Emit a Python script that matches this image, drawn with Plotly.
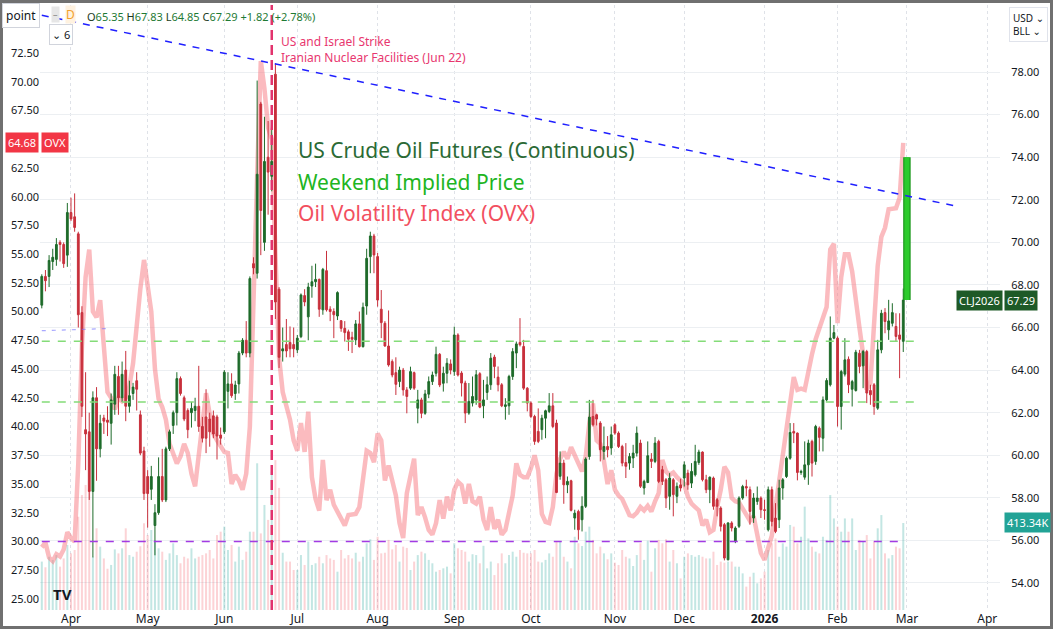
import pandas as pd
import plotly.graph_objects as go

# Trading days missing from the chart (exchange holidays)
holidays = ["2025-04-18", "2025-05-26", "2025-06-19", "2025-07-04", "2025-09-01",
            "2025-11-27", "2025-12-25", "2026-01-01", "2026-01-19", "2026-02-16"]

# Daily candles, Mar 20 2025 -> Feb 27 2026 (one line per month)
opens = [
    67.05, 68.4, 68.4, 69.1, 69.2, 70.0, 69.9, 69.4,
    71.4, 71.2, 70.4, 66.7, 61.2, 61.1, 58.3, 62.7, 60.3, 61.75, 61.65, 61.5, 62.4, 63.7, 62.7, 64.0, 62.3, 62.9, 63.5, 61.9, 60.2,
    59.0, 58.4, 56.7, 57.3, 59.0, 57.9, 60.3, 61.4, 62.0, 63.6, 62.7, 62.1, 62.0, 62.1, 62.3, 61.35, 61.8, 61.7, 61.85, 61.8, 60.95,
    61.1, 63.0, 63.35, 62.9, 63.35, 64.8, 65.4, 64.8, 69.0, 68.55, 76.5, 70.0, 74.0, 73.1, 77.9, 67.8, 64.9, 65.2, 65.3, 65.2,
    64.95, 65.57, 67.5, 66.5, 67.95, 68.15, 68.26, 66.83, 68.67, 66.86, 66.75, 66.54, 66.32, 65.96, 65.8, 65.54, 65.42, 66.17, 65.1, 67.01, 69.33, 70.3,
    69.33, 66.86, 66.2, 65.13, 64.4, 63.88, 63.46, 64.0, 63.07, 63.15, 63.88, 62.21, 62.6, 61.97, 62.87, 63.46, 63.85, 64.74, 63.38, 63.85, 64.29,
    63.93, 65.65, 63.86, 63.39, 61.98, 62.45, 62.6, 63.83, 62.32, 62.95, 63.31, 64.61, 63.67, 63.31, 62.29, 62.32, 63.7, 64.8, 65.3, 65.11, 63.15,
    62.45, 61.82, 61.12, 61.2, 61.74, 62.06, 62.32, 61.51, 59.01, 59.63, 58.61, 58.8, 57.05, 57.36, 56.97, 57.6, 59.94, 61.82, 61.9, 61.51, 60.18, 60.41, 60.34,
    61.43, 61.04, 60.41, 59.66, 59.63, 59.87, 60.1, 60.57, 58.46, 58.72, 59.82, 59.71, 60.65, 59.32, 58.85, 58.07, 58.85, 58.07, 58.61,
    58.93, 59.16, 58.69, 59.08, 59.66, 60.15, 58.85, 58.38, 58.93, 57.91, 57.52, 56.74, 55.09, 56.82, 55.95, 56.66, 57.99, 58.53, 58.38, 57.05, 57.83, 57.99,
    57.44, 56.5, 58.38, 57.05, 56.97, 58.46, 59.0, 59.86, 61.12, 61.04, 59.19, 58.97, 59.55, 60.65, 59.71, 61.27, 60.8, 62.6, 63.31, 65.5,
    65.5, 62.29, 63.81, 64.51, 63.1, 63.04, 64.79, 64.2, 64.87, 63.04, 63.31, 62.21, 64.95, 66.7, 65.89, 66.2, 66.05, 65.65, 65.35,
]
highs = [
    68.5, 68.7, 69.4, 69.7, 70.2, 70.1, 70.0, 71.85,
    72.1, 72.3, 70.5, 67.0, 63.9, 62.0, 63.0, 63.2, 61.9, 61.9, 62.3, 62.9, 64.2, 64.2, 64.4, 64.9, 63.5, 63.4, 63.9, 62.1, 60.4,
    59.3, 59.5, 57.7, 59.9, 60.3, 60.4, 61.2, 62.1, 63.9, 63.7, 62.8, 62.2, 62.5, 62.7, 64.2, 61.8, 63.1, 62.0, 62.1, 61.9, 61.3,
    64.0, 63.9, 63.85, 63.5, 64.9, 65.5, 66.3, 68.4, 69.3, 77.6, 76.6, 75.9, 75.7, 75.75, 78.4, 67.9, 66.0, 66.4, 66.05, 66.0,
    65.65, 67.6, 67.8, 68.1, 68.9, 69.0, 68.3, 68.8, 69.6, 67.0, 66.9, 67.7, 66.35, 66.3, 65.9, 65.8, 66.35, 66.75, 67.17, 69.7, 70.5, 70.4,
    69.5, 67.76, 66.3, 66.8, 64.5, 64.6, 64.16, 64.1, 63.2, 64.16, 63.93, 63.07, 62.7, 63.07, 63.7, 63.93, 65.1, 64.8, 64.16, 64.56, 64.5,
    66.04, 65.73, 63.95, 63.5, 63.39, 63.7, 64.0, 63.9, 63.54, 63.7, 64.8, 64.72, 64.17, 63.39, 62.68, 63.78, 65.03, 65.34, 66.44, 65.42, 63.2,
    62.53, 61.9, 62.2, 61.9, 62.14, 62.92, 62.92, 61.67, 60.18, 59.79, 59.0, 58.85, 57.44, 57.44, 58.07, 59.9, 62.6, 62.6, 61.95, 61.6, 61.35, 60.9, 61.35,
    61.5, 61.12, 60.49, 60.57, 60.1, 60.49, 61.35, 60.73, 58.85, 60.65, 60.1, 60.85, 60.73, 59.5, 58.93, 59.16, 58.93, 58.72, 58.9,
    59.71, 59.32, 59.63, 60.49, 60.26, 60.18, 59.08, 59.0, 59.0, 57.99, 57.6, 56.82, 56.85, 56.9, 56.66, 58.07, 58.61, 58.85, 58.53, 58.22, 58.53, 58.07,
    57.91, 58.53, 58.53, 57.75, 58.85, 58.93, 59.94, 61.51, 61.51, 61.07, 59.32, 60.65, 60.73, 60.73, 61.43, 61.35, 62.76, 63.62, 66.52, 66.12,
    65.58, 64.01, 65.5, 64.64, 63.54, 64.95, 64.95, 64.95, 64.95, 63.31, 63.39, 65.42, 66.83, 66.91, 67.3, 67.14, 66.67, 66.67, 67.83,
]
lows = [
    66.9, 67.7, 67.9, 68.7, 68.9, 69.1, 68.8, 68.85,
    71.0, 70.5, 66.0, 61.8, 59.3, 57.9, 55.2, 58.8, 59.9, 61.0, 60.9, 60.5, 61.9, 61.9, 62.5, 61.6, 62.0, 62.6, 62.1, 60.0, 57.9,
    56.6, 57.9, 55.3, 57.2, 57.8, 57.8, 60.2, 61.0, 61.4, 62.8, 61.6, 60.8, 61.3, 61.6, 61.1, 60.6, 60.1, 60.4, 60.8, 59.8, 60.5,
    61.0, 62.2, 62.7, 62.6, 62.9, 64.7, 64.6, 64.6, 68.5, 68.3, 69.4, 69.6, 71.3, 72.4, 66.4, 64.1, 64.4, 64.6, 64.6, 64.6,
    64.8, 65.5, 67.0, 65.4, 67.4, 67.9, 66.5, 66.6, 66.75, 66.3, 65.5, 66.35, 65.8, 65.34, 64.9, 64.8, 65.18, 65.06, 65.06, 66.6, 68.55, 68.55,
    66.98, 65.5, 65.1, 64.16, 63.66, 62.83, 63.2, 62.8, 61.97, 63.07, 63.07, 61.5, 61.74, 61.9, 62.68, 63.3, 63.7, 63.2, 62.99, 63.38, 63.8,
    63.73, 63.7, 62.76, 61.51, 61.9, 62.29, 62.37, 62.21, 61.74, 62.6, 63.07, 63.62, 63.0, 62.26, 61.67, 61.9, 63.54, 64.09, 65.11, 63.07, 62.06,
    61.74, 60.49, 60.57, 60.73, 60.8, 61.98, 61.27, 58.22, 58.85, 57.72, 58.22, 57.36, 56.5, 56.03, 56.42, 57.52, 59.79, 61.35, 61.4, 59.71, 59.79, 59.9, 60.02,
    60.96, 60.34, 59.48, 58.93, 59.32, 59.4, 59.94, 58.46, 58.15, 58.69, 59.4, 59.63, 58.69, 58.6, 57.52, 57.44, 57.13, 57.75, 58.3,
    58.53, 58.38, 58.46, 59.0, 59.55, 58.77, 58.22, 57.75, 57.44, 57.13, 56.42, 55.06, 55.06, 56.42, 55.87, 56.58, 57.91, 58.07, 56.74, 56.82, 57.67, 57.05,
    56.97, 56.42, 56.66, 56.34, 56.58, 57.91, 58.93, 59.79, 60.57, 58.82, 59.08, 58.85, 58.61, 59.0, 59.55, 60.18, 60.18, 62.53, 63.23, 65.45,
    61.35, 61.2, 63.7, 62.92, 62.29, 62.99, 63.85, 63.15, 62.45, 62.37, 61.9, 62.13, 64.79, 65.73, 65.42, 66.05, 65.34, 63.62, 64.85,
]
closes = [
    68.4, 68.2, 69.15, 69.3, 69.9, 69.9, 69.0, 71.4,
    71.1, 70.7, 66.6, 62.3, 61.0, 58.3, 62.7, 60.3, 61.5, 61.6, 61.55, 62.6, 63.8, 62.7, 63.8, 62.3, 62.8, 63.2, 63.1, 60.1, 58.2,
    58.2, 59.0, 57.3, 59.0, 57.9, 60.3, 61.1, 62.0, 63.6, 62.9, 61.7, 61.2, 62.2, 62.3, 61.35, 60.8, 60.8, 61.1, 61.0, 60.9, 60.8,
    63.9, 63.35, 62.8, 63.3, 64.8, 65.4, 64.8, 68.3, 68.8, 73.2, 71.5, 73.8, 73.3, 73.8, 67.2, 64.6, 65.0, 64.9, 65.0, 65.0,
    65.5, 67.53, 67.2, 67.9, 68.15, 68.26, 66.86, 68.73, 66.83, 66.75, 66.6, 67.64, 65.96, 65.76, 65.45, 65.45, 66.17, 65.1, 66.95, 69.25, 70.3, 69.41,
    67.29, 66.23, 65.13, 64.24, 63.77, 63.33, 64.0, 63.07, 62.76, 63.93, 63.15, 62.6, 61.97, 62.88, 63.46, 63.77, 64.74, 63.3, 63.85, 64.32, 64.0,
    65.65, 63.77, 63.39, 61.98, 62.53, 62.76, 63.78, 62.26, 62.6, 63.31, 64.56, 64.17, 63.31, 62.32, 62.37, 63.7, 64.87, 65.23, 65.19, 63.15, 62.45,
    61.82, 60.65, 60.65, 61.74, 62.09, 62.32, 61.35, 58.25, 59.63, 58.61, 58.77, 57.41, 57.28, 56.5, 57.6, 59.82, 61.79, 61.43, 61.7, 60.26, 60.41, 60.26, 60.96,
    61.04, 60.41, 59.63, 59.48, 59.94, 60.1, 61.04, 58.54, 58.77, 59.98, 59.71, 60.57, 58.77, 58.77, 57.99, 58.93, 58.15, 58.54, 58.46,
    59.55, 58.61, 59.24, 59.71, 60.15, 58.85, 58.38, 58.97, 57.6, 57.6, 56.66, 55.17, 56.82, 56.58, 56.58, 57.99, 58.53, 58.46, 57.36, 57.99, 57.99, 57.44,
    57.41, 58.38, 56.89, 56.42, 58.46, 58.85, 59.86, 61.07, 61.04, 59.19, 59.24, 59.55, 60.57, 59.63, 61.35, 60.84, 62.6, 63.51, 65.5, 65.76,
    62.29, 63.93, 64.48, 63.31, 63.46, 64.84, 64.17, 64.87, 62.92, 62.84, 62.29, 64.95, 66.67, 66.28, 66.31, 66.7, 65.58, 65.45, 67.29,
]
# Volume in thousands of contracts
volume_k = [
    230, 203, 253, 238, 261, 206, 245, 309,
    269, 285, 443, 546, 594, 570, 253, 388, 301, 245, 196, 214, 288, 269, 293, 388, 261, 253, 277, 303, 412,
    356, 380, 332, 293, 277, 238, 269, 317, 261, 222, 253, 245, 293, 245, 253, 261, 269, 285, 245, 356, 372,
    396, 285, 309, 230, 301, 238, 277, 372, 372, 697, 364, 499, 428, 657, 712, 580, 272, 230, 230, 190,
    190, 261, 214, 325, 214, 222, 253, 222, 261, 245, 238, 182, 285, 245, 261, 245, 272, 230, 253, 317, 336, 238,
    348, 269, 272, 333, 288, 309, 230, 301, 295, 190, 230, 261, 277, 269, 238, 222, 182, 190, 198, 206, 174,
    317, 293, 285, 277, 230, 265, 261, 222, 305, 198, 230, 166, 222, 269, 222, 261, 277, 253, 285, 272, 269,
    269, 285, 230, 226, 238, 269, 253, 325, 325, 253, 230, 198, 348, 317, 304, 372, 396, 333, 269, 301, 269, 241, 269,
    225, 214, 285, 253, 245, 209, 261, 317, 238, 329, 182, 293, 333, 317, 336, 230, 285, 222, 150,
    253, 269, 261, 253, 261, 253, 245, 245, 277, 214, 230, 225, 230, 230, 206, 206, 174, 111, 158, 177, 127, 150,
    182, 285, 317, 340, 253, 317, 301, 404, 396, 317, 348, 491, 340, 301, 277, 269, 348, 333, 546, 435,
    396, 372, 435, 372, 435, 285, 333, 325, 356, 245, 325, 388, 451, 269, 245, 261, 301, 293, 413.34,
]
# Oil Volatility Index (left scale)
ovx = [
    29.5, 29.9, 28.6, 28.3, 28.9, 28.7, 29.3, 30.8,
    30.3, 30.0, 36.8, 47.0, 53.0, 55.4, 50.0, 49.5, 51.0, 46.4, 43.0, 42.5, 41.5, 42.5, 42.2, 42.5, 43.5, 45.5, 49.0, 52.0, 54.5,
    52.5, 50.0, 45.0, 42.4, 41.7, 40.6, 38.5, 37.7, 36.8, 37.4, 38.5, 37.7, 35.9, 34.8, 37.4, 40.6, 42.9, 41.1, 39.4, 38.8, 38.2,
    37.8, 37.7, 35.0, 35.8, 35.3, 34.5, 35.9, 40.0, 52.0, 61.9, 71.8, 69.4, 66.0, 65.0, 55.0, 46.0, 43.0, 41.9, 40.6, 38.8,
    37.9, 40.3, 37.8, 41.3, 35.6, 33.7, 32.7, 37.1, 33.6, 34.5, 33.2, 32.6, 32.0, 31.4, 32.3, 32.4, 32.4, 33.0, 35.3, 37.9, 37.7, 36.9,
    39.4, 38.8, 35.3, 36.6, 35.3, 34.0, 31.6, 30.3, 34.2, 35.8, 37.2, 32.3, 33.0, 32.1, 31.0, 30.6, 31.6, 33.6, 32.0, 33.9, 32.7,
    34.5, 35.2, 34.9, 33.3, 35.0, 33.5, 33.3, 33.9, 31.9, 31.0, 33.0, 31.1, 31.9, 30.6, 31.0, 32.4, 34.0, 36.8, 35.8, 35.6, 35.6,
    36.4, 37.5, 36.2, 32.4, 31.7, 31.6, 33.0, 35.9, 37.2, 37.8, 37.2, 38.2, 37.5, 36.8, 36.1, 37.4, 40.3, 42.0, 38.8, 38.5, 37.0, 35.0, 36.2,
    34.5, 34.0, 33.7, 33.0, 32.3, 32.2, 32.5, 33.0, 32.7, 33.1, 32.6, 33.5, 34.2, 37.1, 36.1, 35.8, 36.0, 35.6, 35.3,
    35.0, 33.9, 33.3, 33.0, 32.7, 31.4, 31.9, 30.8, 31.0, 33.0, 34.5, 36.5, 36.0, 33.8, 33.5, 33.4, 32.8, 32.3, 31.8, 32.2, 30.7, 29.0,
    28.4, 29.5, 30.5, 33.0, 35.3, 37.2, 39.5, 42.5, 44.3, 43.2, 43.3, 43.2, 45.0, 46.3, 47.6, 48.5, 49.6, 50.4, 55.4, 55.9,
    49.0, 53.0, 55.0, 55.0, 53.5, 50.8, 48.6, 46.3, 43.2, 43.8, 48.7, 54.0, 56.5, 57.3, 58.9, 59.0, 59.0, 59.9, 64.68,
]

month_ticks = ["2025-04-01", "2025-05-01", "2025-06-02", "2025-07-01", "2025-08-01", "2025-09-02",
               "2025-10-01", "2025-11-03", "2025-12-01", "2026-01-02", "2026-02-02", "2026-03-02", "2026-04-01"]
month_labels = ["Apr", "May", "Jun", "Jul", "Aug", "Sep", "Oct", "Nov", "Dec", "<b>2026</b>", "Feb", "Mar", "Apr"]

# Scale labels shown on the left (OVX) axis; 65.00 sits under the OVX price tag
ovx_ticks = [25.0, 27.5, 30.0, 32.5, 35.0, 37.5, 40.0, 42.5, 45.0, 47.5, 50.0,
             52.5, 55.0, 57.5, 60.0, 62.5, 67.5, 70.0, 72.5]
price_ticks = [54, 56, 58, 60, 62, 64, 66, 68, 70, 72, 74, 76, 78]

# Drawings on the chart
trend_dates = ["2025-03-20", "2026-03-19"]
trend_prices = [80.67, 71.72]
support_levels = [65.35, 62.5]
support_dates = ["2025-03-20", "2026-03-05"]
small_line_dates = ["2025-03-20", "2025-04-15"]
small_line_prices = [65.85, 65.95]
ovx_level = 30.0
ovx_level_dates = ["2025-03-20", "2026-02-27"]
strike_date = "2025-06-20"
weekend_date = "2026-03-02"
weekend_prices = [67.29, 74.0]
last_close = 67.29
last_volume_k = 413.34
last_ovx = 64.68

dates = [d for d in pd.bdate_range("2025-03-20", "2026-02-27") if d.strftime("%Y-%m-%d") not in holidays]
assert len(dates) == len(opens) == len(highs) == len(lows) == len(closes) == len(volume_k) == len(ovx)

UP = "#1e6b2a"
DOWN = "#c8303c"
FONT = "Noto Sans, DejaVu Sans, sans-serif"

vol_colors = ["rgba(38,166,154,0.28)" if c >= o else "rgba(242,54,69,0.22)" for o, c in zip(opens, closes)]

fig = go.Figure()

#Volume at the bottom (hidden scale)
fig.add_trace(go.Bar(x=dates, y=volume_k, marker_color=vol_colors, marker_line_width=0,
                     width=0.55 * 86400000, yaxis="y"))

#OVX line on the left scale
fig.add_trace(go.Scatter(x=dates, y=ovx, mode="lines", yaxis="y2",
                         line=dict(color="rgba(248,120,128,0.5)", width=4.5)))

#Crude oil candles on the right scale
fig.add_trace(go.Candlestick(x=dates, open=opens, high=highs, low=lows, close=closes, yaxis="y3",
                             increasing=dict(line=dict(color=UP, width=1), fillcolor=UP),
                             decreasing=dict(line=dict(color=DOWN, width=1), fillcolor=DOWN),
                             whiskerwidth=0))

#Weekend implied price bar
fig.add_trace(go.Scatter(x=[weekend_date, weekend_date], y=weekend_prices, mode="lines", yaxis="y3",
                         line=dict(color="#1d9a1d", width=7.5)))
fig.add_trace(go.Scatter(x=[weekend_date, weekend_date], y=weekend_prices, mode="lines", yaxis="y3",
                         line=dict(color="#2ccb2c", width=5)))


def px_x(px):
    return (px - 40) / 960


def px_y(py):
    return (610 - py) / 605


shapes = [
    dict(type="line", xref="x", yref="y3", x0=trend_dates[0], x1=trend_dates[1],
         y0=trend_prices[0], y1=trend_prices[1], line=dict(color="#1f1fff", width=1.5, dash="7px,7px")),
    dict(type="line", xref="x", yref="y3", x0=small_line_dates[0], x1=small_line_dates[1],
         y0=small_line_prices[0], y1=small_line_prices[1],
         line=dict(color="rgba(110,110,255,0.6)", width=1.2, dash="4px,6px")),
    dict(type="line", xref="x", yref="y2", x0=ovx_level_dates[0], x1=ovx_level_dates[1],
         y0=ovx_level, y1=ovx_level, line=dict(color="#a23be3", width=1.5, dash="8px,8px")),
    dict(type="line", xref="x", yref="paper", x0=strike_date, x1=strike_date, y0=0, y1=1.0,
         line=dict(color="#e2336d", width=2.5, dash="10px,5px")),
    dict(type="rect", xref="paper", yref="paper", x0=px_x(1.5), x1=px_x(1051.5), y0=px_y(627.5), y1=px_y(1.5),
         line=dict(color="#707070", width=3), layer="above"),
]
for lvl in support_levels:
    shapes.append(dict(type="line", xref="x", yref="y3", x0=support_dates[0], x1=support_dates[1],
                       y0=lvl, y1=lvl, line=dict(color="#84dc78", width=1.5, dash="8px,8px")))


def note(x, y, text, xref="paper", yref="paper", xanchor="center", **kw):
    return dict(x=x, y=y, xref=xref, yref=yref, text=text, showarrow=False,
                xanchor=xanchor, yanchor=kw.pop("yanchor", "middle"), **kw)


GREEN_TXT = "#1e7a34"
annotations = [
    note(px_x(21), px_y(15.5), "point", font=dict(size=12, color="#131722"),
         bgcolor="white", bordercolor="#d1d4dc", borderwidth=1, borderpad=3),
    note(px_x(55), px_y(15), "<b>–</b>", font=dict(size=9, color="#9a9a9a"), bgcolor="#e6e6e6", borderpad=1),
    note(px_x(70), px_y(15), "D", font=dict(size=12, color="#f2a12c"), bgcolor="#fff2e0", borderpad=0),
    note(px_x(85), px_y(16),
         (f"O<span style='color:{GREEN_TXT}'>65.35</span> H<span style='color:{GREEN_TXT}'>67.83</span> "
          f"L<span style='color:{GREEN_TXT}'>64.85</span> C<span style='color:{GREEN_TXT}'>67.29</span> "
          f"<span style='color:{GREEN_TXT}'>+1.82 (+2.78%)</span>"),
         xanchor="left", font=dict(size=11, color="#1b3b22")),
    note(px_x(61), px_y(35), "⌄ 6", font=dict(size=11, color="#131722"),
         bgcolor="white", bordercolor="#d1d4dc", borderwidth=1, borderpad=2),
    note(px_x(279), px_y(31), "US and Israel Strike<br>Iranian Nuclear Facilities (Jun 22)",
         xanchor="left", yanchor="top", align="left", font=dict(size=12, color="#e8376f")),
    note(px_x(296), px_y(150), "US Crude Oil Futures (Continuous)", xanchor="left",
         font=dict(size=21, color="#2b6a35")),
    note(px_x(296), px_y(182), "Weekend Implied Price", xanchor="left",
         font=dict(size=21, color="#21b51f")),
    note(px_x(296), px_y(213), "Oil Volatility Index (OVX)", xanchor="left",
         font=dict(size=21, color="#f2505f")),
    note(px_x(22), last_ovx, f"{last_ovx:.2f}", yref="y2",
         font=dict(size=11, color="white"), bgcolor="#f23645", borderpad=2),
    note(px_x(55), last_ovx, "OVX", yref="y2",
         font=dict(size=11, color="white"), bgcolor="#f23645", borderpad=2),
    note(px_x(979), last_close, "CLJ2026", yref="y3",
         font=dict(size=11, color="white"), bgcolor="#1e5a27", borderpad=2),
    note(px_x(1021), last_close, f"{last_close:.2f}", yref="y3",
         font=dict(size=11, color="white"), bgcolor="#1e5a27", borderpad=2),
    note(px_x(1027), last_volume_k, f"{last_volume_k:.2f}K", yref="y",
         font=dict(size=11, color="white"), bgcolor="#22a396", borderpad=2),
    note(px_x(1028), px_y(24), "USD ⌄<br>BLL ⌄", align="left",
         font=dict(size=10, color="#131722"), bgcolor="white", bordercolor="#e0e3eb",
         borderwidth=1, borderpad=3),
    note(px_x(62), px_y(594), "<b>TV</b>", font=dict(size=15, color="#131722")),
]

fig.update_layout(
    width=1053, height=629,
    margin=dict(l=40, r=53, t=5, b=19),
    paper_bgcolor="white", plot_bgcolor="white",
    showlegend=False, hovermode=False,
    font=dict(family=FONT, size=12, color="#131722"),
    xaxis=dict(type="date", range=["2025-03-19 12:15", "2026-04-06 12:00"],
               rangebreaks=[dict(bounds=["sat", "mon"]), dict(values=holidays)],
               rangeslider=dict(visible=False),
               tickvals=month_ticks, ticktext=month_labels, ticks="",
               showgrid=True, gridcolor="#dfe2e8", griddash="dot", gridwidth=1,
               zeroline=False, showline=False, automargin=False, tickfont=dict(size=12)),
    yaxis=dict(range=[0, 2874], visible=False, showgrid=False, fixedrange=True),
    yaxis2=dict(overlaying="y", side="left", range=[24.04, 76.68],
                tickvals=ovx_ticks, tickformat=".2f",
                showgrid=False, zeroline=False, automargin=False, tickfont=dict(size=11)),
    yaxis3=dict(overlaying="y", side="right", range=[52.73, 81.15],
                tickvals=price_ticks, tickformat=".2f",
                ticks="outside", ticklen=8, tickcolor="rgba(0,0,0,0)",
                showgrid=True, gridcolor="#eceff2", zeroline=False, automargin=False,
                tickfont=dict(size=11)),
    shapes=shapes,
    annotations=annotations,
)

# remove the browser's default page margin so the chart fills the window
fig.write_html("out.html", config={"displayModeBar": False},
               post_script="document.body.style.margin='0px';")
